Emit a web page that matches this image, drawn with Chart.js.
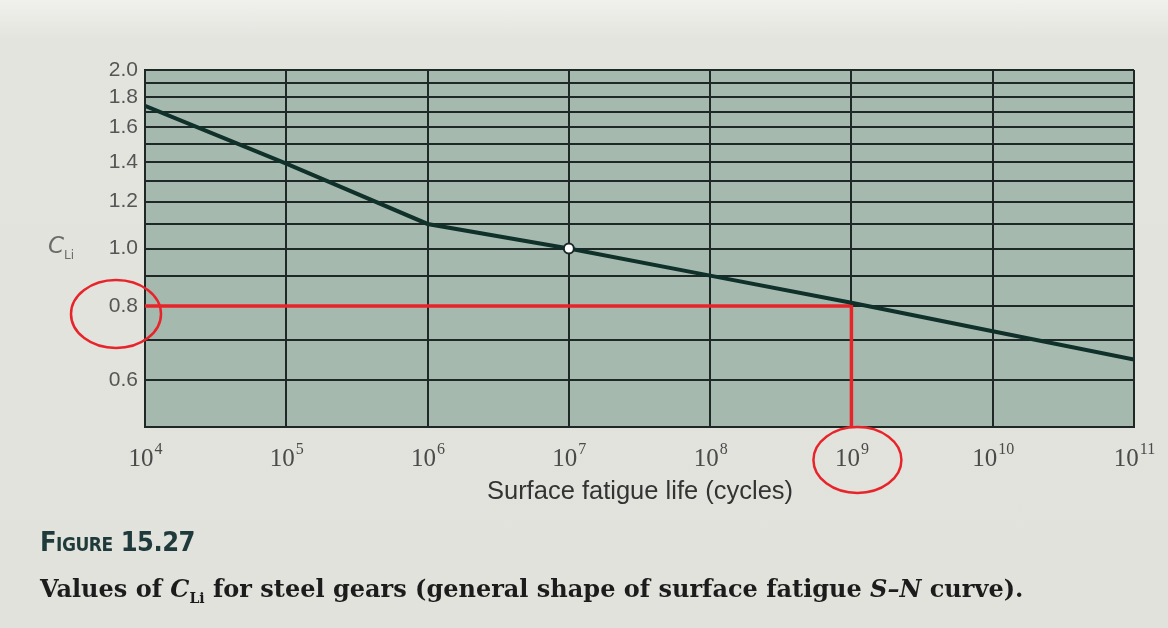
<!DOCTYPE html>
<html>
<head>
<meta charset="utf-8">
<script src="https://cdn.jsdelivr.net/npm/chart.js@4.4.1/dist/chart.umd.min.js"></script>
<style>
  html, body { margin: 0; padding: 0; background: #e3e3de; }
  #wrap { position: relative; width: 1168px; height: 628px; overflow: hidden;
          background: linear-gradient(#f0f0ec 0px, #e4e4df 40px, #e2e2dd 628px); }
  #c { position: absolute; left: 0; top: 0; }
  .txt { position: absolute; white-space: nowrap; line-height: 1; }
  #cli { left: 48px; top: 232px; font: italic 23px "DejaVu Sans", sans-serif; color: #6b6b6b; }
  #cli sub { font-style: normal; font-size: 12px; }
  #xtitle { left: 0; width: 1280px; top: 476px; text-align: center; font: 25.5px "Liberation Sans", Arial, sans-serif; color: #333; }
  #fig { left: 40px; top: 526px; font: bold 27px "DejaVu Sans Condensed", "DejaVu Sans", sans-serif; font-stretch: condensed; font-variant: small-caps; color: #1f3a3a; letter-spacing: -0.5px; }
  #cap { left: 40px; top: 574px; font: bold 24px "DejaVu Serif", serif; color: #1c1c1c; }
  #cap sub { font-size: 14px; }
</style>
</head>
<body>
<div id="wrap">
  <canvas id="c" width="1168" height="628"></canvas>
  <div class="txt" id="cli">C<sub>Li</sub></div>
  <div class="txt" id="xtitle">Surface fatigue life (cycles)</div>
  <div class="txt" id="fig">Figure 15.27</div>
  <div class="txt" id="cap">Values of <i>C</i><sub>Li</sub> for steel gears (general shape of surface fatigue <i>S–N</i> curve).</div>
</div>
<script>
// ---- data ----
const cycles = [1e4, 1e5, 1e6, 1e7, 1e8, 1e9, 1e10, 1e11];
const cLi = [1.74, 1.39, 1.10, 1.00, 0.90, 0.81, 0.725, 0.65];
const markerX = [1e7];
const markerY = [1.0];
const guideX = [1e4, 1e9, 1e9];
const guideY = [0.8, 0.8, 0.5];
const yGridValues = [0.5, 0.6, 0.7, 0.8, 0.9, 1.0, 1.1, 1.2, 1.3, 1.4, 1.5, 1.6, 1.7, 1.8, 1.9, 2.0];
const yTickLabels = ['0.6', '0.8', '1.0', '1.2', '1.4', '1.6', '1.8', '2.0'];
const xTickValues = [1e4, 1e5, 1e6, 1e7, 1e8, 1e9, 1e10, 1e11];
const xTickExponents = ['4', '5', '6', '7', '8', '9', '10', '11'];

const GRID = '#1d2827';
const RED = '#e8242b';

const bgPlugin = {
  id: 'plotBg',
  beforeDraw(chart) {
    const { ctx, chartArea: a } = chart;
    ctx.save();
    ctx.fillStyle = '#a6b9af';
    ctx.fillRect(a.left, a.top, a.right - a.left, a.bottom - a.top);
    ctx.restore();
  }
};

const xLabelPlugin = {
  id: 'xLabels',
  afterDraw(chart) {
    const { ctx } = chart;
    const xs = chart.scales.x;
    const base = chart.chartArea.bottom + 39;
    ctx.save();
    ctx.fillStyle = '#4a4a4a';
    ctx.textBaseline = 'alphabetic';
    xTickValues.forEach((v, i) => {
      const px = xs.getPixelForValue(v);
      ctx.font = '25px "Liberation Serif", serif';
      const w1 = ctx.measureText('10').width;
      ctx.font = '16px "Liberation Serif", serif';
      const w2 = ctx.measureText(xTickExponents[i]).width;
      const start = px - (w1 + w2) / 2;
      ctx.font = '25px "Liberation Serif", serif';
      ctx.textAlign = 'left';
      ctx.fillText('10', start, base);
      ctx.font = '16px "Liberation Serif", serif';
      ctx.fillText(xTickExponents[i], start + w1 + 1, base - 12);
    });
    ctx.restore();
  }
};

const circlePlugin = {
  id: 'redCircles',
  afterDraw(chart) {
    const { ctx, chartArea: a } = chart;
    const xs = chart.scales.x, ys = chart.scales.y;
    ctx.save();
    ctx.strokeStyle = RED;
    ctx.lineWidth = 2.5;
    ctx.beginPath();
    ctx.ellipse(a.left - 29, ys.getPixelForValue(guideY[0]) + 8, 45, 34, 0, 0, Math.PI * 2);
    ctx.stroke();
    ctx.beginPath();
    ctx.ellipse(xs.getPixelForValue(guideX[1]) + 6, a.bottom + 33, 44, 33, 0, 0, Math.PI * 2);
    ctx.stroke();
    ctx.restore();
  }
};

new Chart(document.getElementById('c'), {
  type: 'line',
  data: {
    datasets: [
      {
        label: 'marker',
        data: markerX.map((x, i) => ({ x, y: markerY[i] })),
        showLine: false,
        pointRadius: 5,
        pointBackgroundColor: '#ffffff',
        pointBorderColor: '#1a2a28',
        pointBorderWidth: 2,
        order: 0
      },
      {
        label: 'CLi',
        data: cycles.map((x, i) => ({ x, y: cLi[i] })),
        borderColor: '#10302a',
        borderWidth: 4,
        pointRadius: 0,
        tension: 0,
        order: 1
      },
      {
        label: 'guide',
        data: guideX.map((x, i) => ({ x, y: guideY[i] })),
        borderColor: RED,
        borderWidth: 3.5,
        pointRadius: 0,
        tension: 0,
        order: 2
      }
    ]
  },
  plugins: [bgPlugin, xLabelPlugin, circlePlugin],
  options: {
    responsive: false,
    animation: false,
    devicePixelRatio: 1,
    layout: { padding: { left: 0, top: 70, right: 34, bottom: 0 } },
    plugins: { legend: { display: false }, tooltip: { enabled: false } },
    scales: {
      x: {
        type: 'logarithmic',
        min: 1e4, max: 1e11,
        afterBuildTicks(s) { s.ticks = xTickValues.map(v => ({ value: v })); },
        afterFit(s) { s.height = 201; },
        ticks: { display: false, autoSkip: false },
        grid: { color: GRID, lineWidth: 2, drawTicks: false },
        border: { color: GRID, width: 2 }
      },
      y: {
        type: 'logarithmic',
        min: 0.5, max: 2.0,
        afterBuildTicks(s) { s.ticks = yGridValues.map(v => ({ value: v })); },
        afterFit(s) { s.width = 145; },
        ticks: {
          autoSkip: false,
          padding: 7,
          color: '#555',
          font: { family: '"Liberation Sans", Arial, sans-serif', size: 21 },
          callback(v) {
            const t = (Math.round(v * 10) / 10).toFixed(1);
            return yTickLabels.includes(t) ? t : '';
          }
        },
        grid: { color: GRID, lineWidth: 2, drawTicks: false },
        border: { color: GRID, width: 2 }
      }
    }
  }
});
</script>
</body>
</html>
